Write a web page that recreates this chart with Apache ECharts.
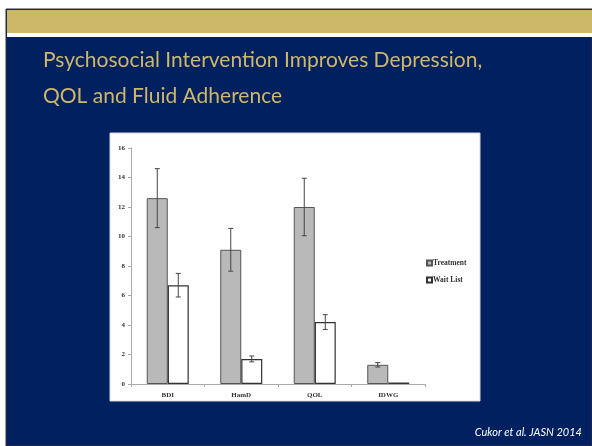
<!DOCTYPE html>
<html>
<head>
<meta charset="utf-8">
<script src="https://cdn.jsdelivr.net/npm/echarts@6/dist/echarts.min.js"></script>
<style>
  html, body { margin: 0; padding: 0; background: #fff; }
  #main { width: 592px; height: 446px; }
</style>
</head>
<body>
<div id="main"></div>
<script>
// chart data
var categories = ['BDI', 'HamD', 'QOL', 'IDWG'];
var treatment = [12.6, 9.1, 12.0, 1.3];
var treatmentErr = [2.0, 1.45, 1.95, 0.15];
var waitList = [6.7, 1.7, 4.2, 0.1];
var waitListErr = [0.8, 0.2, 0.5, 0];
var yTicks = { min: 0, max: 16, interval: 2 };

var chart = echarts.init(document.getElementById('main'));

var barW = 21;
var labelFont = { fontFamily: 'Liberation Serif', fontSize: 7, fontWeight: 'bold', color: '#333' };

// error bars drawn through the axis scale, offset to each bar's center
function errorSeries(name, vals, errs, shift) {
    var data = [];
    for (var i = 0; i < vals.length; i++) {
        data.push([i, vals[i] - errs[i], vals[i] + errs[i]]);
    }
    return {
        type: 'custom',
        name: name + ' err',
        data: data,
        z: 5,
        silent: true,
        renderItem: function (params, api) {
            if (api.value(2) - api.value(1) <= 0) return;
            var lo = api.coord([api.value(0), api.value(1)]);
            var hi = api.coord([api.value(0), api.value(2)]);
            var x = lo[0] + shift;
            var cap = 2.5;
            var st = { stroke: '#444', lineWidth: 1 };
            return {
                type: 'group',
                children: [
                    { type: 'line', shape: { x1: x, y1: lo[1], x2: x, y2: hi[1] }, style: st },
                    { type: 'line', shape: { x1: x - cap, y1: lo[1], x2: x + cap, y2: lo[1] }, style: st },
                    { type: 'line', shape: { x1: x - cap, y1: hi[1], x2: x + cap, y2: hi[1] }, style: st }
                ]
            };
        }
    };
}

var option = {
    backgroundColor: '#ffffff',
    animation: false,
    title: {
        text: 'Psychosocial Intervention Improves Depression,\nQOL and Fluid Adherence',
        left: 38,
        top: 37,
        textStyle: {
            fontFamily: 'Lato',
            fontSize: 21,
            fontWeight: 'normal',
            lineHeight: 36,
            color: '#cdb86a'
        }
    },
    graphic: [
        { type: 'rect', z: -10, shape: { x: 6, y: 9, width: 586, height: 437 }, style: { fill: '#00205f', stroke: '#333', lineWidth: 1 } },
        { type: 'rect', z: -9, shape: { x: 7, y: 10, width: 585, height: 23 }, style: { fill: '#cdb86a' } },
        { type: 'rect', z: -9, shape: { x: 7, y: 33, width: 585, height: 4 }, style: { fill: '#ffffff' } },
        { type: 'rect', z: -8, shape: { x: 110, y: 133, width: 370, height: 268 }, style: { fill: '#ffffff', stroke: '#d8d8d8', lineWidth: 1 } },
        {
            type: 'text', right: 10, top: 427, z: 10,
            style: { text: 'Cukor et al. JASN 2014', fill: '#ffffff', font: 'italic 11px Lato' }
        }
    ],
    legend: {
        orient: 'vertical',
        left: 421,
        top: 254,
        itemWidth: 5,
        itemHeight: 5,
        itemGap: 9,
        icon: 'rect',
        textStyle: { fontFamily: 'Liberation Serif', fontSize: 7.5, fontWeight: 'bold', color: '#333', padding: [0, 0, 0, -4] },
        data: ['Treatment', 'Wait List']
    },
    grid: { left: 131, right: 167, top: 148, bottom: 62 },
    xAxis: {
        type: 'category',
        data: categories,
        axisLine: { lineStyle: { color: '#aaa' } },
        axisTick: { show: true, length: 3, lineStyle: { color: '#aaa' } },
        axisLabel: Object.assign({ margin: 8 }, labelFont)
    },
    yAxis: {
        type: 'value',
        min: yTicks.min,
        max: yTicks.max,
        interval: yTicks.interval,
        splitLine: { show: false },
        axisLine: { show: true, lineStyle: { color: '#aaa' } },
        axisTick: { show: true, length: 3, lineStyle: { color: '#aaa' } },
        axisLabel: Object.assign({ margin: 6 }, labelFont)
    },
    series: [
        {
            name: 'Treatment',
            type: 'bar',
            data: treatment,
            barWidth: barW,
            barGap: '0%',
            itemStyle: { color: '#b9b9b9', borderColor: '#555', borderWidth: 1 }
        },
        {
            name: 'Wait List',
            type: 'bar',
            data: waitList,
            barWidth: barW,
            barGap: '0%',
            itemStyle: { color: '#ffffff', borderColor: '#333', borderWidth: 1.2 }
        },
        errorSeries('Treatment', treatment, treatmentErr, -barW / 2),
        errorSeries('Wait List', waitList, waitListErr, barW / 2)
    ]
};

chart.setOption(option);
</script>
</body>
</html>
